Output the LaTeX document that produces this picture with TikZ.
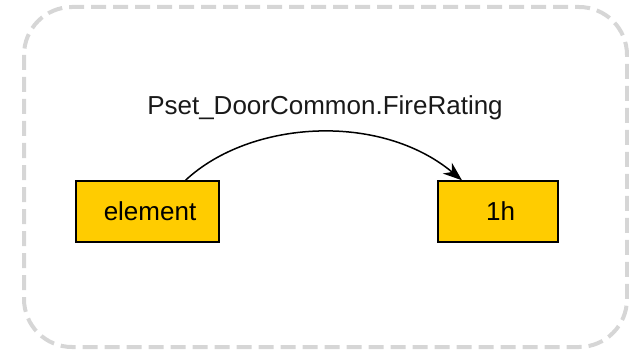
\documentclass[tikz,border=0pt]{standalone}
\usepackage{fontspec}
\setmainfont{Liberation Sans}
\usetikzlibrary{arrows.meta}
\definecolor{boxfill}{HTML}{FFCC00}
\definecolor{framegray}{HTML}{D6D6D6}
\tikzset{
  valbox/.style={draw=black, line width=1.4pt, fill=boxfill, inner sep=0pt,
    minimum height=61pt, font=\fontsize{26}{30}\selectfont},
  frame/.style={draw=framegray, line width=4pt, dash pattern=on 15pt off 7pt,
    rounded corners=48pt},
  link/.style={draw=black, line width=1.5pt, -{Stealth[length=19pt,width=14pt,inset=6pt]}},
  linklabel/.style={font=\fontsize{26}{30}\selectfont, text=black!90}
}
\begin{document}
\begin{tikzpicture}[x=1pt,y=-1pt]
  \useasboundingbox (0,0) rectangle (629,350);
  \path[frame] (24,7) rectangle (627,347);

  \node[valbox, minimum width=143pt] (elem) at (147.5,211.5) {\hspace*{5pt}element};
  \node[valbox, minimum width=120pt] (val) at (498,211.5) {\hspace*{5pt}1h};

  \coordinate (src) at ([xshift=38pt]elem.north);
  \coordinate (dst) at ([xshift=-36pt]val.north);
  \draw[link] (src) .. controls (250,120) and (380,112) .. (dst);

  \node[linklabel] (lbl) at (325,108) {Pset\_DoorCommon.FireRating};
\end{tikzpicture}
\end{document}
